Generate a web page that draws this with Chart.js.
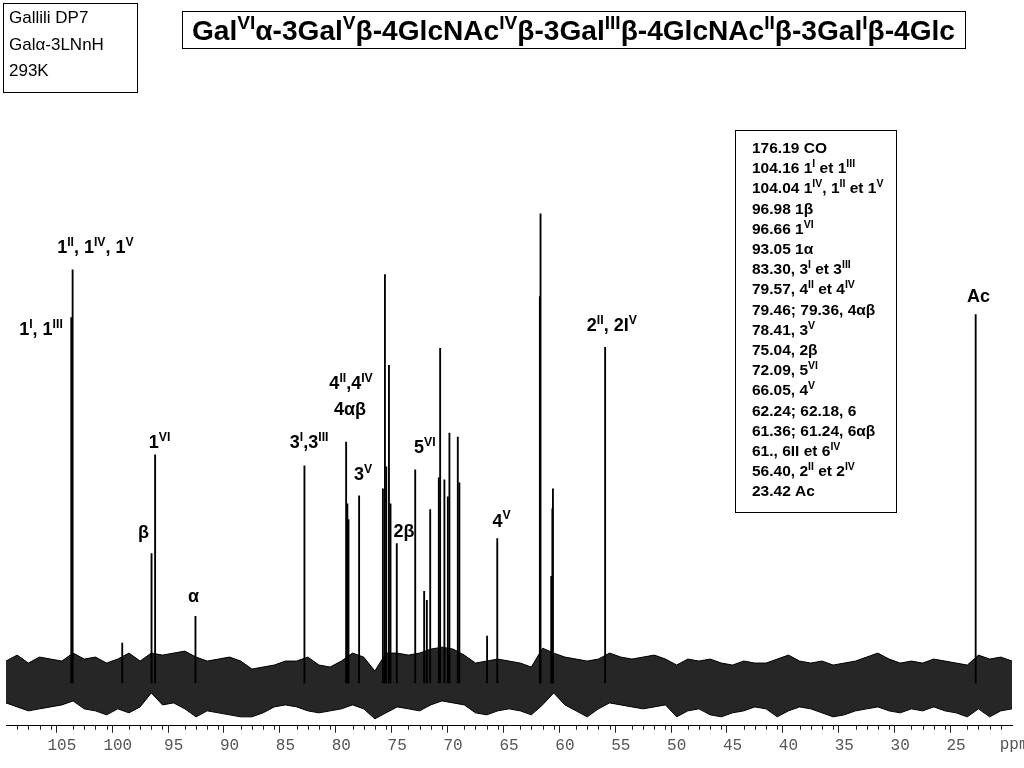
<!DOCTYPE html>
<html>
<head>
<meta charset="utf-8">
<script src="https://cdn.jsdelivr.net/npm/chart.js@4.4.1/dist/chart.umd.min.js"></script>
<style>
  html, body { margin: 0; padding: 0; background: #fff; }
  canvas { display: block; }
</style>
</head>
<body>
<canvas id="nmr" width="1024" height="768"></canvas>
<script>
// ppm grid for the baseline noise band (one point per ppm, 110 -> 20)
const noisePpm = [];
for (let p = 110; p >= 20; p--) noisePpm.push(p);

// upper / lower edge of the noise band
const noiseTop = [22, 28, 20, 26, 24, 22, 30, 24, 26, 20,
  24, 30, 22, 30, 28, 30, 32, 26, 22, 24,
  26, 22, 14, 16, 18, 22, 22, 26, 18, 16,
  22, 30, 26, 12, 30, 30, 28, 30, 34, 36,
  34, 28, 20, 22, 24, 22, 20, 16, 35, 30,
  26, 24, 22, 24, 30, 26, 24, 26, 28, 24,
  18, 24, 22, 24, 20, 18, 22, 20, 20, 24,
  28, 22, 20, 22, 18, 20, 22, 26, 30, 24,
  20, 22, 20, 24, 22, 20, 18, 28, 24, 26, 22];
const noiseBottom = [-20, -24, -28, -26, -24, -22, -18, -26, -28, -32,
  -26, -30, -24, -10, -22, -20, -26, -34, -28, -30,
  -32, -34, -34, -30, -24, -22, -24, -28, -30, -28,
  -26, -22, -26, -36, -30, -24, -26, -28, -22, -18,
  -20, -22, -30, -32, -28, -26, -28, -32, -22, -10,
  -22, -28, -34, -26, -20, -22, -24, -26, -24, -22,
  -34, -28, -26, -32, -34, -30, -28, -24, -26, -34,
  -28, -24, -26, -30, -34, -32, -28, -26, -24, -28,
  -30, -26, -28, -24, -28, -30, -34, -26, -34, -28, -26];

// resonances: chemical shift (ppm) and peak height
const peakPpm = [104.16, 104.04, 99.6, 96.98, 96.66, 93.05, 83.30, 79.57, 79.46, 79.36,
  78.41, 76.28, 76.10, 75.98, 75.74, 75.60, 75.04, 73.39, 72.59, 72.35,
  72.05, 71.28, 71.16, 70.78, 70.47, 70.33, 69.58, 69.44, 66.96, 66.05,
  62.24, 62.18, 61.22, 61.12, 61.07, 56.40, 23.25];
const peakHeight = [367, 415, 40, 130, 229, 67, 218, 242, 180, 164,
  188, 195, 410, 217, 319, 180, 140, 214, 92, 83,
  174, 206, 336, 204, 187, 251, 247, 201, 47, 145,
  388, 471, 107, 175, 195, 337, 370];

// axis labels
const majorTicks = [105, 100, 95, 90, 85, 80, 75, 70, 65, 60, 55, 50, 45, 40, 35, 30, 25];

// peak assignments: text, ppm, height of label centre
const labelText = ['1^{I}, 1^{III}', '1^{II}, 1^{IV}, 1^{V}', '1^{VI}', 'β', 'α', '3^{I},3^{III}',
  '4^{II},4^{IV}', '4αβ', '3^{V}', '2β', '5^{VI}', '4^{V}', '2^{II}, 2I^{V}', 'Ac'];
const labelPpm = [106.87, 102.0, 96.26, 97.69, 93.22, 82.88, 79.13, 79.22, 78.06, 74.40, 72.53, 65.66, 55.8, 23.0];
const labelHeight = [355, 438, 242, 152, 87, 242, 301, 275, 210, 153, 237, 163, 359, 389];

// list of shifts in the box on the right
const shiftList = ['176.19 CO', '104.16 1^{I} et 1^{III}', '104.04 1^{IV}, 1^{II} et 1^{V}', '96.98 1β',
  '96.66 1^{VI}', '93.05 1α', '83.30, 3^{I} et 3^{III}', '79.57, 4^{II} et 4^{IV}',
  '79.46; 79.36, 4αβ', '78.41, 3^{V}', '75.04, 2β', '72.09, 5^{VI}', '66.05, 4^{V}',
  '62.24; 62.18, 6', '61.36; 61.24, 6αβ', '61., 6II et 6^{IV}', '56.40, 2^{II} et 2^{IV}', '23.42 Ac'];

const titleText = 'Gal^{VI}α-3Gal^{V}β-4GlcNAc^{IV}β-3Gal^{III}β-4GlcNAc^{II}β-3Gal^{I}β-4Glc';
const sampleText = ['Gallili DP7', 'Galα-3LNnH', '293K'];

const FONT = 'Arial, "Liberation Sans", sans-serif';

// split "1^{II}" style strings into normal / superscript parts
function parseRich(str) {
  const parts = [];
  const re = /\^\{([^}]*)\}/g;
  let last = 0, m;
  while ((m = re.exec(str)) !== null) {
    if (m.index > last) parts.push({ t: str.slice(last, m.index), sup: false });
    parts.push({ t: m[1], sup: true });
    last = re.lastIndex;
  }
  if (last < str.length) parts.push({ t: str.slice(last), sup: false });
  return parts;
}

function richWidth(ctx, parts, size, bold) {
  let w = 0;
  parts.forEach(p => {
    ctx.font = (bold ? 'bold ' : '') + (p.sup ? size * 0.68 : size) + 'px ' + FONT;
    w += ctx.measureText(p.t).width;
  });
  return w;
}

function drawRich(ctx, str, x, baseY, size, bold, align, fitWidth) {
  const parts = parseRich(str);
  const w = richWidth(ctx, parts, size, bold);
  let sx = 1;
  if (fitWidth) sx = fitWidth / w;
  let x0 = x;
  if (align === 'center') x0 = x - w * sx / 2;
  ctx.save();
  ctx.translate(x0, baseY);
  ctx.scale(sx, 1);
  ctx.textBaseline = 'alphabetic';
  ctx.textAlign = 'left';
  ctx.fillStyle = '#000';
  let cx = 0;
  parts.forEach(p => {
    const s = p.sup ? size * 0.68 : size;
    ctx.font = (bold ? 'bold ' : '') + s + 'px ' + FONT;
    ctx.fillText(p.t, cx, p.sup ? -size * 0.4 : 0);
    cx += ctx.measureText(p.t).width;
  });
  ctx.restore();
}

const annotations = {
  id: 'annotations',
  afterDraw(chart) {
    const ctx = chart.ctx;
    const xs = chart.scales.x, ys = chart.scales.y;
    const axisY = chart.chartArea.bottom;

    // minor ticks, one per ppm
    ctx.save();
    ctx.strokeStyle = '#222';
    ctx.lineWidth = 1;
    for (let p = 109; p > 20; p--) {
      if (p % 5 === 0) continue;
      const px = Math.round(xs.getPixelForValue(p)) + 0.5;
      ctx.beginPath();
      ctx.moveTo(px, axisY);
      ctx.lineTo(px, axisY + 4);
      ctx.stroke();
    }
    ctx.font = '16px "Liberation Mono", "DejaVu Sans Mono", monospace';
    ctx.fillStyle = '#555';
    ctx.textAlign = 'left';
    ctx.textBaseline = 'middle';
    ctx.fillText('ppm', xs.getPixelForValue(21.1), axisY + 19);
    ctx.restore();

    // peak assignment labels
    labelText.forEach((t, i) => {
      const px = xs.getPixelForValue(labelPpm[i]);
      const py = ys.getPixelForValue(labelHeight[i]);
      drawRich(ctx, t, px, py + 6, 18, true, 'center');
    });

    // sample box, top left
    ctx.save();
    ctx.strokeStyle = '#000';
    ctx.lineWidth = 1;
    ctx.strokeRect(3.5, 3.5, 134, 89);
    ctx.restore();
    sampleText.forEach((t, i) => {
      ctx.save();
      ctx.font = '17px ' + FONT;
      ctx.fillStyle = '#000';
      ctx.textBaseline = 'alphabetic';
      ctx.fillText(t, 9, 23 + i * 26.5);
      ctx.restore();
    });

    // title box
    ctx.save();
    ctx.strokeStyle = '#000';
    ctx.lineWidth = 1;
    ctx.strokeRect(182.5, 11.5, 783, 37);
    ctx.restore();
    drawRich(ctx, titleText, 192, 40, 27, true, 'left', 763);

    // shift list box
    ctx.save();
    ctx.fillStyle = '#fff';
    ctx.fillRect(735, 130, 161, 382);
    ctx.strokeStyle = '#000';
    ctx.lineWidth = 1;
    ctx.strokeRect(735.5, 130.5, 161, 382);
    ctx.restore();
    shiftList.forEach((t, i) => {
      drawRich(ctx, t, 752, 153 + i * 20.2, 15.5, true, 'left');
    });
  }
};

new Chart(document.getElementById('nmr'), {
  type: 'line',
  data: {
    datasets: [
      {
        label: 'noise top',
        data: noisePpm.map((p, i) => ({ x: p, y: noiseTop[i] })),
        borderColor: '#000',
        borderWidth: 1,
        pointRadius: 0,
        tension: 0,
        fill: false,
        order: 2
      },
      {
        label: 'noise bottom',
        data: noisePpm.map((p, i) => ({ x: p, y: noiseBottom[i] })),
        borderColor: '#000',
        borderWidth: 1,
        pointRadius: 0,
        tension: 0,
        fill: '-1',
        backgroundColor: '#262626',
        order: 2
      },
      {
        type: 'bar',
        label: 'peaks',
        data: peakPpm.map((p, i) => ({ x: p, y: peakHeight[i] })),
        backgroundColor: '#000',
        borderWidth: 0,
        barThickness: 1.2,
        order: 1
      }
    ]
  },
  options: {
    responsive: false,
    animation: false,
    events: [],
    layout: { padding: { left: 6, right: 12, top: 200, bottom: 10 } },
    plugins: {
      legend: { display: false },
      tooltip: { enabled: false },
      title: { display: false }
    },
    scales: {
      x: {
        type: 'linear',
        reverse: true,
        min: 20,
        max: 110,
        offset: false,
        border: { display: true, color: '#000', width: 1 },
        grid: {
          drawOnChartArea: false,
          drawTicks: true,
          tickLength: 7,
          tickColor: ctx => (ctx.tick && majorTicks.includes(ctx.tick.value)) ? '#222' : 'rgba(0,0,0,0)'
        },
        ticks: {
          stepSize: 1,
          autoSkip: false,
          maxRotation: 0,
          padding: 3,
          color: '#555',
          font: { family: '"Liberation Mono", "DejaVu Sans Mono", monospace', size: 16 },
          callback: v => majorTicks.includes(v) ? String(v) : ''
        }
      },
      y: {
        display: false,
        min: -43,
        max: 485
      }
    }
  },
  plugins: [annotations]
});
</script>
</body>
</html>
